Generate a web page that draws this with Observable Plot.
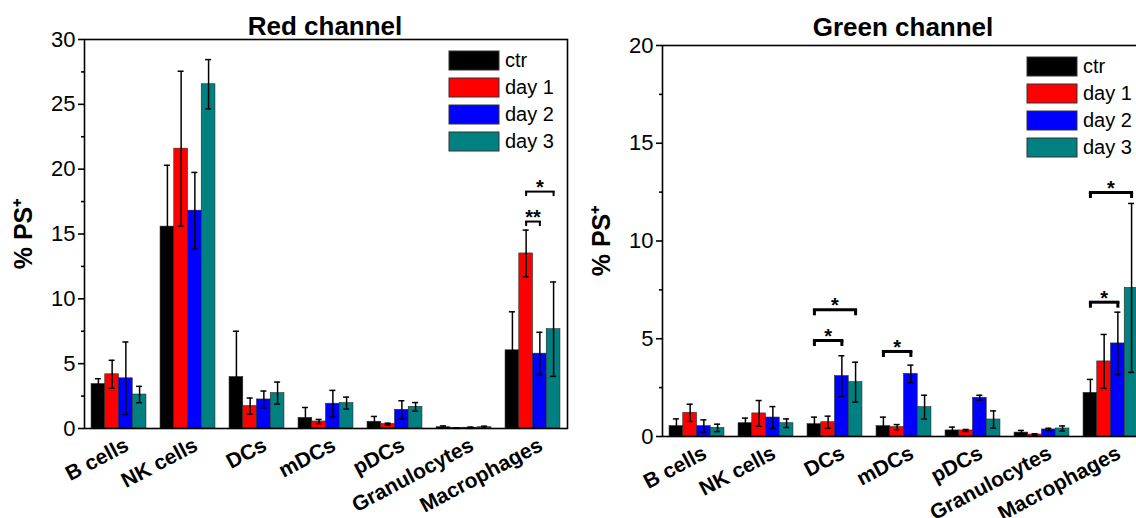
<!DOCTYPE html>
<html><head><meta charset="utf-8">
<script src="https://cdn.jsdelivr.net/npm/d3@7"></script>
<script src="https://cdn.jsdelivr.net/npm/@observablehq/plot@0.6"></script>
<style>
html,body{margin:0;padding:0;background:#fff;}
#wrap{position:relative;width:1136px;height:518px;overflow:hidden;font-family:"Liberation Sans",Arial,sans-serif;}
.panel{position:absolute;top:0;width:580px;height:518px;}
.panel svg{max-width:none !important;width:580px;height:518px;}
.title{position:absolute;font-weight:bold;font-size:26px;line-height:26px;white-space:nowrap;transform:translateX(-50%);color:#000;}
.legbox{position:absolute;width:160px;}
.legbox, .legbox *{font-family:"Liberation Sans",Arial,sans-serif !important;font-size:20px !important;color:#000;overflow:visible !important;text-overflow:clip !important;}
.legbox > div{margin:0 !important;padding:0 !important;columns:auto !important;display:block !important;}
.legbox > div > div{display:flex !important;align-items:center !important;height:19px !important;margin:0 0 8px 0 !important;padding:0 !important;line-height:19px !important;}
.legbox > div > div > svg{margin-right:6px !important;flex:none;}
.legbox svg rect{stroke:#333;stroke-width:1;}
</style></head>
<body><div id="wrap"></div>
<script>
// ---- categories / series ----
const categories = ["B cells","NK cells","DCs","mDCs","pDCs","Granulocytes","Macrophages"];
const seriesNames = ["ctr","day 1","day 2","day 3"];
const seriesColors = ["#000000","#ff0000","#0000ff","#008080"];

// ---- Red channel (mean, error) ----
const redCtr      = [3.43, 15.57, 3.97, 0.82, 0.52, 0.10, 6.03];
const redCtrErr   = [0.41, 4.73, 3.53, 0.80, 0.41, 0.10, 2.97];
const redDay1     = [4.18, 21.58, 1.73, 0.54, 0.34, 0.03, 13.50];
const redDay1Err  = [1.08, 5.97, 0.62, 0.16, 0.07, 0.02, 1.80];
const redDay2     = [3.87, 16.80, 2.24, 1.91, 1.44, 0.06, 5.77];
const redDay2Err  = [2.80, 2.95, 0.65, 1.03, 0.70, 0.05, 1.65];
const redDay3     = [2.62, 26.55, 2.73, 1.96, 1.67, 0.10, 7.66];
const redDay3Err  = [0.63, 1.90, 0.85, 0.46, 0.33, 0.08, 3.64];
const redTicks = [0, 5, 10, 15, 20, 25, 30];
const redMinorTicks = [2.5, 7.5, 12.5, 17.5, 22.5, 27.5];
const redSig = [
  {category: "Macrophages", from: "day 1", to: "day 2", y: 15.96, label: "**"},
  {category: "Macrophages", from: "day 1", to: "day 3", y: 18.27, label: "*"}
];

// ---- Green channel (mean, error) ----
const greenCtr     = [0.53, 0.68, 0.63, 0.53, 0.31, 0.20, 2.23];
const greenCtrErr  = [0.37, 0.26, 0.36, 0.46, 0.17, 0.11, 0.69];
const greenDay1    = [1.21, 1.18, 0.73, 0.48, 0.31, 0.10, 3.84];
const greenDay1Err = [0.44, 0.66, 0.31, 0.13, 0.05, 0.04, 1.38];
const greenDay2    = [0.53, 0.97, 3.09, 3.20, 1.98, 0.36, 4.76];
const greenDay2Err = [0.32, 0.56, 1.04, 0.45, 0.13, 0.06, 1.60];
const greenDay3    = [0.44, 0.68, 2.78, 1.50, 0.87, 0.41, 7.60];
const greenDay3Err = [0.19, 0.22, 1.02, 0.61, 0.44, 0.13, 4.32];
const greenTicks = [0, 5, 10, 15, 20];
const greenMinorTicks = [2.5, 7.5, 12.5, 17.5];
const greenSig = [
  {category: "DCs", from: "ctr", to: "day 2", y: 4.91, label: "*"},
  {category: "DCs", from: "ctr", to: "day 3", y: 6.48, label: "*"},
  {category: "mDCs", from: "ctr", to: "day 2", y: 4.35, label: "*"},
  {category: "Macrophages", from: "ctr", to: "day 2", y: 6.87, label: "*"},
  {category: "Macrophages", from: "ctr", to: "day 3", y: 12.48, label: "*"}
];

const FONT = "Liberation Sans, Arial, sans-serif";
const sIdx = s => seriesNames.indexOf(s);

function rowsOf(vals, errs) {
  const rows = [];
  seriesNames.forEach((s, i) => categories.forEach((c, k) =>
    rows.push({category: c, series: s, idx: i, value: vals[i][k], err: errs[i][k]})));
  return rows;
}

function makePanel(cfg) {
  const rows = rowsOf(cfg.vals, cfg.errs);
  const OUT = 0.514, CAP = 0.22;
  const plot = Plot.plot({
    width: 580, height: 518,
    marginLeft: 83, marginRight: 13, marginTop: cfg.marginTop, marginBottom: cfg.marginBottom,
    style: {fontFamily: FONT, background: "transparent", overflow: "visible", color: "#000"},
    fx: {domain: categories, padding: 0, label: null},
    x: {domain: [-0.5 - OUT, 3.5 + OUT], axis: null},
    y: {domain: [0, cfg.yMax]},
    color: {domain: seriesNames, range: seriesColors},
    marks: [
      Plot.rectY(rows, {fx: "category", x1: d => d.idx - 0.5, x2: d => d.idx + 0.5, y1: 0, y2: "value",
        fill: "series", stroke: "#2a2a2a", strokeWidth: 0.6}),
      Plot.ruleX(rows, {fx: "category", x: "idx", y1: d => Math.max(0, d.value - d.err), y2: d => d.value + d.err,
        stroke: "#000", strokeWidth: 1.5}),
      Plot.ruleY(rows, {fx: "category", x1: d => d.idx - CAP, x2: d => d.idx + CAP, y: d => d.value + d.err,
        stroke: "#000", strokeWidth: 1.5}),
      Plot.ruleY(rows.filter(d => d.value - d.err > 0), {fx: "category", x1: d => d.idx - CAP, x2: d => d.idx + CAP,
        y: d => d.value - d.err, stroke: "#000", strokeWidth: 1.5}),
      // significance brackets
      Plot.link(cfg.sig, {fx: "category", x1: d => sIdx(d.from), x2: d => sIdx(d.to), y1: "y", y2: "y",
        stroke: "#000", strokeWidth: cfg.brW, strokeLinecap: "square"}),
      Plot.ruleX(cfg.sig, {fx: "category", x: d => sIdx(d.from), y1: "y", y2: "y", insetBottom: -cfg.leg,
        stroke: "#000", strokeWidth: cfg.brW}),
      Plot.ruleX(cfg.sig, {fx: "category", x: d => sIdx(d.to), y1: "y", y2: "y", insetBottom: -cfg.leg,
        stroke: "#000", strokeWidth: cfg.brW}),
      Plot.text(cfg.sig, {fx: "category", x: d => (sIdx(d.from) + sIdx(d.to)) / 2, y: "y", text: "label",
        lineAnchor: "middle", dy: -4, fontSize: 20, fontWeight: "bold", fill: "#000"}),
      // axes
      Plot.axisY({ticks: cfg.ticks, tickSize: 6, tickPadding: 3, fontSize: 22, label: null, strokeWidth: 1.6}),
      Plot.axisY({ticks: cfg.minor, tickSize: 3, tickFormat: () => "", label: null, strokeWidth: 1.6}),
      Plot.axisY({ticks: [], tickSize: 0, label: "% PS\u207A", labelAnchor: "center", labelArrow: "none",
        labelOffset: 70, fontSize: 25, fontWeight: "bold"}),
      Plot.axisFx({anchor: "bottom", tickRotate: -28, tickSize: 0, tickPadding: 15, dx: 8, fontSize: 21,
        fontWeight: "bold", label: null}),
      Plot.frame({facet: "super", stroke: "#000", strokeWidth: 1.6})
    ]
  });
  const holder = document.createElement("div");
  holder.className = "panel";
  holder.style.left = cfg.left + "px";
  holder.appendChild(plot);
  document.getElementById("wrap").appendChild(holder);

  const t = document.createElement("div");
  t.className = "title";
  t.textContent = cfg.title;
  t.style.left = (cfg.left + 83 + 242) + "px";
  t.style.top = cfg.titleTop + "px";
  document.getElementById("wrap").appendChild(t);

  const lb = document.createElement("div");
  lb.className = "legbox";
  lb.style.left = (cfg.left + 449) + "px";
  lb.style.top = (cfg.marginTop + 12) + "px";
  lb.appendChild(Plot.legend({color: {type: "ordinal", domain: seriesNames, range: seriesColors},
    columns: 1, swatchWidth: 50, swatchHeight: 19, className: "lg"}));
  document.getElementById("wrap").appendChild(lb);
}

makePanel({
  title: "Red channel", left: 0, titleTop: 13, marginTop: 39, marginBottom: 90, yMax: 30,
  vals: [redCtr, redDay1, redDay2, redDay3], errs: [redCtrErr, redDay1Err, redDay2Err, redDay3Err],
  ticks: redTicks, minor: redMinorTicks, sig: redSig, brW: 2, leg: 5
});
makePanel({
  title: "Green channel", left: 578, titleTop: 14, marginTop: 45, marginBottom: 82, yMax: 20,
  vals: [greenCtr, greenDay1, greenDay2, greenDay3], errs: [greenCtrErr, greenDay1Err, greenDay2Err, greenDay3Err],
  ticks: greenTicks, minor: greenMinorTicks, sig: greenSig, brW: 3, leg: 6
});
</script>
</body></html>
